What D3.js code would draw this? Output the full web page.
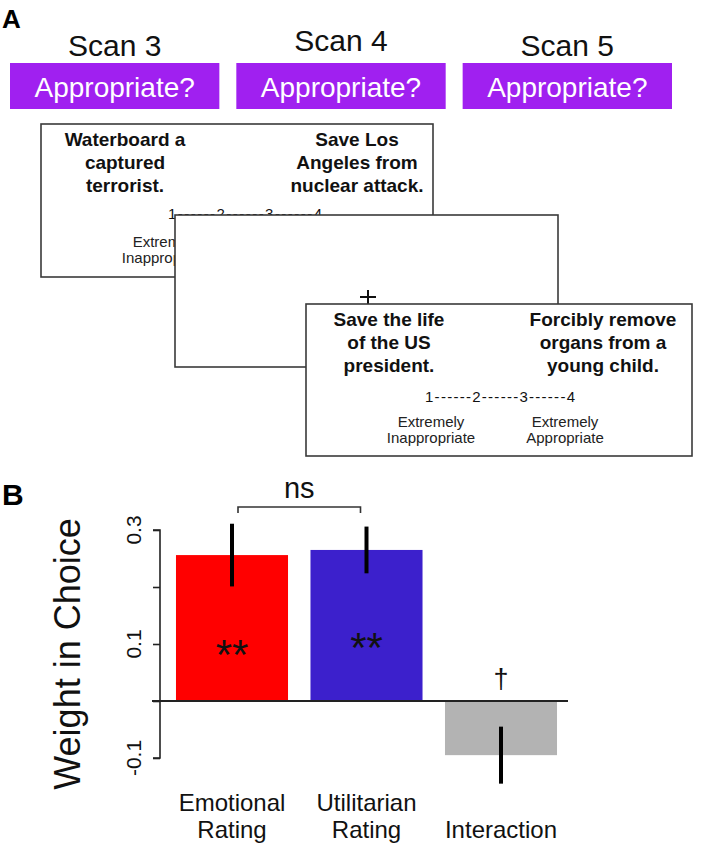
<!DOCTYPE html>
<html>
<head>
<meta charset="utf-8">
<script src="https://cdn.jsdelivr.net/npm/d3@7"></script>
<style>
  html, body { margin: 0; padding: 0; background: #fff; }
  svg { display: block; font-family: "Liberation Sans", Arial, Helvetica, sans-serif; }
</style>
</head>
<body>
<svg id="chart" width="706" height="853"></svg>
<script>
// ---------- DATA ----------
const scanLabels = ["Scan 3", "Scan 4", "Scan 5"];
const promptLabel = "Appropriate?";
const cardLeftText = [
  ["Waterboard a", "captured", "terrorist."],
  [],
  ["Save the life", "of the US", "president."]
];
const cardRightText = [
  ["Save Los", "Angeles from", "nuclear attack."],
  [],
  ["Forcibly remove", "organs from a", "young child."]
];
const scaleText = "1------2------3------4";
const scaleLeftLabel = ["Extremely", "Inappropriate"];
const scaleRightLabel = ["Extremely", "Appropriate"];

const categories = ["Emotional\nRating", "Utilitarian\nRating", "\nInteraction"];
const values = [0.256, 0.265, -0.095];
const errors = [0.055, 0.041, 0.050];
const significance = ["**", "**", "\u2020"];
const yTicks = [-0.1, 0, 0.1, 0.2, 0.3];
const yTickLabels = ["-0.1", "", "0.1", "", "0.3"];
const yLabel = "Weight in Choice";
const compareLabel = "ns";

// ---------- PANEL A ----------
const svg = d3.select("#chart");

svg.append("text").attr("x", 2).attr("y", 28).attr("font-size", 26).attr("font-weight", "bold").text("A");
svg.append("text").attr("x", 2).attr("y", 505).attr("font-size", 30).attr("font-weight", "bold").text("B");

const boxX = d3.scaleBand().domain(scanLabels).range([10, 672]).paddingInner(0.075).paddingOuter(0);
const scanBaselines = [56, 51, 56];
scanLabels.forEach((s, i) => {
  const cx = boxX(s) + boxX.bandwidth() / 2;
  svg.append("text").attr("x", cx).attr("y", scanBaselines[i]).attr("text-anchor", "middle")
    .attr("font-size", 30).attr("fill", "#111").text(s);
  svg.append("rect").attr("x", boxX(s)).attr("y", 63).attr("width", boxX.bandwidth()).attr("height", 46)
    .attr("fill", "#a020f0");
  svg.append("text").attr("x", cx).attr("y", 97).attr("text-anchor", "middle")
    .attr("font-size", 28).attr("fill", "#fff").text(promptLabel);
});

// cards
const cards = [
  {x: 41, y: 124, w: 392, h: 153, lc: 125, rc: 357, sx: 168, sw: 154, sy: 219, slc: 166, src: 299},
  {x: 175, y: 215, w: 383, h: 152},
  {x: 306, y: 304, w: 386, h: 152, lc: 389, rc: 603, sx: 425, sw: 150, sy: 402, slc: 431, src: 565}
];
cards.forEach((c, i) => {
  const g = svg.append("g");
  g.append("rect").attr("x", c.x).attr("y", c.y).attr("width", c.w).attr("height", c.h)
    .attr("fill", "#fff").attr("stroke", "#3a3a3a").attr("stroke-width", 1.6);
  if (i === 1) {
    g.append("line").attr("x1", 360).attr("x2", 376).attr("y1", 297).attr("y2", 297).attr("stroke", "#111").attr("stroke-width", 2);
    g.append("line").attr("x1", 368).attr("x2", 368).attr("y1", 290).attr("y2", 305).attr("stroke", "#111").attr("stroke-width", 2);
    return;
  }
  const block = (lines, cxp) => {
    const t = g.append("text").attr("text-anchor", "middle").attr("font-size", 19)
      .attr("font-weight", "bold").attr("fill", "#111");
    lines.forEach((s, k) => t.append("tspan").attr("x", cxp).attr("y", c.y + 22 + k * 23).text(s));
  };
  block(cardLeftText[i], c.lc);
  block(cardRightText[i], c.rc);
  g.append("text").attr("x", c.sx).attr("y", c.sy).attr("font-size", 15).attr("fill", "#111")
    .attr("textLength", c.sw).attr("lengthAdjust", "spacing").text(scaleText);
  const lab = (lines, cxp) => {
    const t = g.append("text").attr("text-anchor", "middle").attr("font-size", 15).attr("fill", "#222");
    lines.forEach((s, k) => t.append("tspan").attr("x", cxp).attr("y", c.y + 123 + k * 16).text(s));
  };
  lab(scaleLeftLabel, c.slc);
  lab(scaleRightLabel, c.src);
});

// ---------- PANEL B ----------
const y = d3.scaleLinear().domain([-0.1, 0.3]).range([758, 530]);
const x = d3.scaleBand().domain(categories).range([164.75, 568.25]).paddingInner(0.167).paddingOuter(0.0835);
const colors = ["#ff0000", "#3c20cc", "#b3b3b3"];
const axisX = 160;

// y axis
const yAxis = d3.axisLeft(y).tickValues(yTicks).tickSize(7).tickFormat("");
const ag = svg.append("g").attr("transform", `translate(${axisX},0)`).call(yAxis);
ag.selectAll("path, line").attr("stroke", "#222").attr("stroke-width", 1.6);
ag.select("path").attr("d", `M-7,${y(0.3)}H0V${y(-0.1)}H-7`);

yTicks.forEach((t, i) => {
  if (!yTickLabels[i]) return;
  svg.append("text").attr("transform", `translate(141,${y(t)}) rotate(-90)`)
    .attr("text-anchor", "middle").attr("font-size", 21).attr("fill", "#111").text(yTickLabels[i]);
});

svg.append("text").attr("transform", `translate(80,654) rotate(-90)`)
  .attr("text-anchor", "middle").attr("font-size", 36).attr("fill", "#111").text(yLabel);

// bars
svg.selectAll("rect.bar").data(categories).enter().append("rect").attr("class", "bar")
  .attr("x", d => x(d)).attr("width", x.bandwidth())
  .attr("y", (d, i) => y(Math.max(0, values[i])))
  .attr("height", (d, i) => Math.abs(y(values[i]) - y(0)))
  .attr("fill", (d, i) => colors[i]);

// zero line
svg.append("line").attr("x1", 152).attr("x2", 568).attr("y1", y(0)).attr("y2", y(0))
  .attr("stroke", "#222").attr("stroke-width", 1.8);

// error bars
svg.selectAll("line.err").data(categories).enter().append("line").attr("class", "err")
  .attr("x1", d => x(d) + x.bandwidth() / 2).attr("x2", d => x(d) + x.bandwidth() / 2)
  .attr("y1", (d, i) => y(values[i] + errors[i])).attr("y2", (d, i) => y(values[i] - errors[i]))
  .attr("stroke", "#000").attr("stroke-width", 4);

// significance markers
const cx = i => x(categories[i]) + x.bandwidth() / 2;
svg.append("text").attr("x", cx(0)).attr("y", 669).attr("text-anchor", "middle").attr("font-size", 42).attr("fill", "#111").text(significance[0]);
svg.append("text").attr("x", cx(1)).attr("y", 662).attr("text-anchor", "middle").attr("font-size", 42).attr("fill", "#111").text(significance[1]);
svg.append("text").attr("x", cx(2)).attr("y", 688).attr("text-anchor", "middle").attr("font-size", 27).attr("fill", "#111").text(significance[2]);

// ns bracket
const b1 = cx(0) + 6, b2 = cx(1) - 6;
svg.append("path").attr("d", `M${b1},513V507H${b2}V513`).attr("fill", "none").attr("stroke", "#333").attr("stroke-width", 1.6);
svg.append("text").attr("x", (b1 + b2) / 2).attr("y", 498).attr("text-anchor", "middle").attr("font-size", 29).attr("fill", "#111").text(compareLabel);

// category labels (multi-line)
categories.forEach((c, i) => {
  const t = svg.append("text").attr("text-anchor", "middle").attr("font-size", 24).attr("fill", "#111");
  c.split("\n").forEach((s, k) => {
    if (!s) return;
    t.append("tspan").attr("x", cx(i)).attr("y", 811 + k * 27).text(s);
  });
});
</script>
</body>
</html>
